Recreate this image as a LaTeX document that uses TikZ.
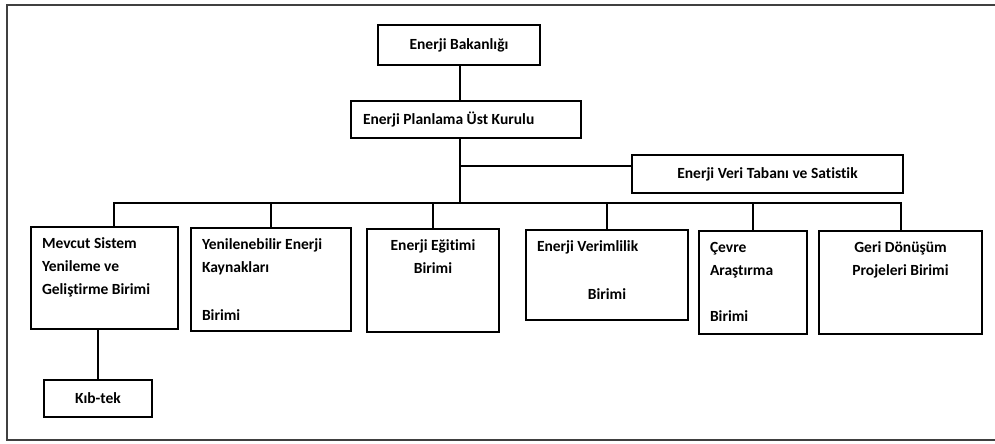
\documentclass[tikz,border=0pt]{standalone}
\usepackage{fontspec}
\setmainfont{Carlito}[Ligatures=NoCommon]

\begin{document}
\begin{tikzpicture}[
    x=1pt,
    y=-1pt,
    font=\fontsize{15.5}{23}\selectfont\bfseries,
    kutu/.style={draw=black, line width=2pt, align=flush center, inner sep=0pt},
    birim/.style={kutu, anchor=north west, inner xsep=11pt, inner ysep=0pt, text height=21pt},
    baglanti/.style={draw=black, line width=2pt}
]

\useasboundingbox (0,0) rectangle (995,444);
\draw[line width=1.2pt, black!75] (995,5) -- (7,5) -- (7,440) -- (995,440);

\node[kutu, minimum width=162, minimum height=40] (bakanlik) at (459,45) {Enerji Bakanlığı};

\node[kutu, minimum width=230, minimum height=37, text width=206, align=flush left] (planlama) at (466,119.5)
{Enerji Planlama Üst Kurulu};

\node[kutu, minimum width=271, minimum height=38] (veri) at (767.5,174) {Enerji Veri Tabanı ve Satistik};

% birimler
\node[birim, text width=125, text depth=81, align=flush left] (mevcut) at (30,226)
{Mevcut Sistem\\Yenileme ve\\Geliştirme Birimi};
\node[birim, text width=138, text depth=82, align=flush left] (yenilenebilir) at (190,227)
{Yenilenebilir Enerji\\Kaynakları\\[25pt]Birimi};
\node[birim, text width=110, text depth=82] (egitim) at (366,228)
{Enerji Eğitimi\\Birimi};
\node[birim, text width=140, text depth=69, align=flush left] (verim) at (525,229)
{Enerji Verimlilik\\[25pt]\makebox[\linewidth]{Birimi}};
\node[birim, text width=86, text depth=82, align=flush left] (cevre) at (698,230)
{Çevre\\Araştırma\\[23pt]Birimi};
\node[birim, text width=141, text depth=82] (geri) at (818,230)
{Geri Dönüşüm\\Projeleri Birimi};

\node[kutu, minimum width=108, minimum height=37] (kibtek) at (98,398.5) {Kıb-tek};

\coordinate (dal) at (460,166);
\coordinate (bus) at (460,203);

\draw[baglanti] (bakanlik.south -| dal) -- (planlama.north -| dal);
\draw[baglanti] (planlama.south -| dal) -- (bus);
\draw[baglanti] (dal) -- (dal -| veri.west);
\draw[baglanti] ([xshift=9.5pt]mevcut.north) |- (bus);
\foreach \n in {yenilenebilir, egitim, verim, cevre, geri}
    \draw[baglanti] (\n.north) |- (bus);
\draw[baglanti] (kibtek.north) -- (kibtek.north |- mevcut.south);

\end{tikzpicture}
\end{document}
